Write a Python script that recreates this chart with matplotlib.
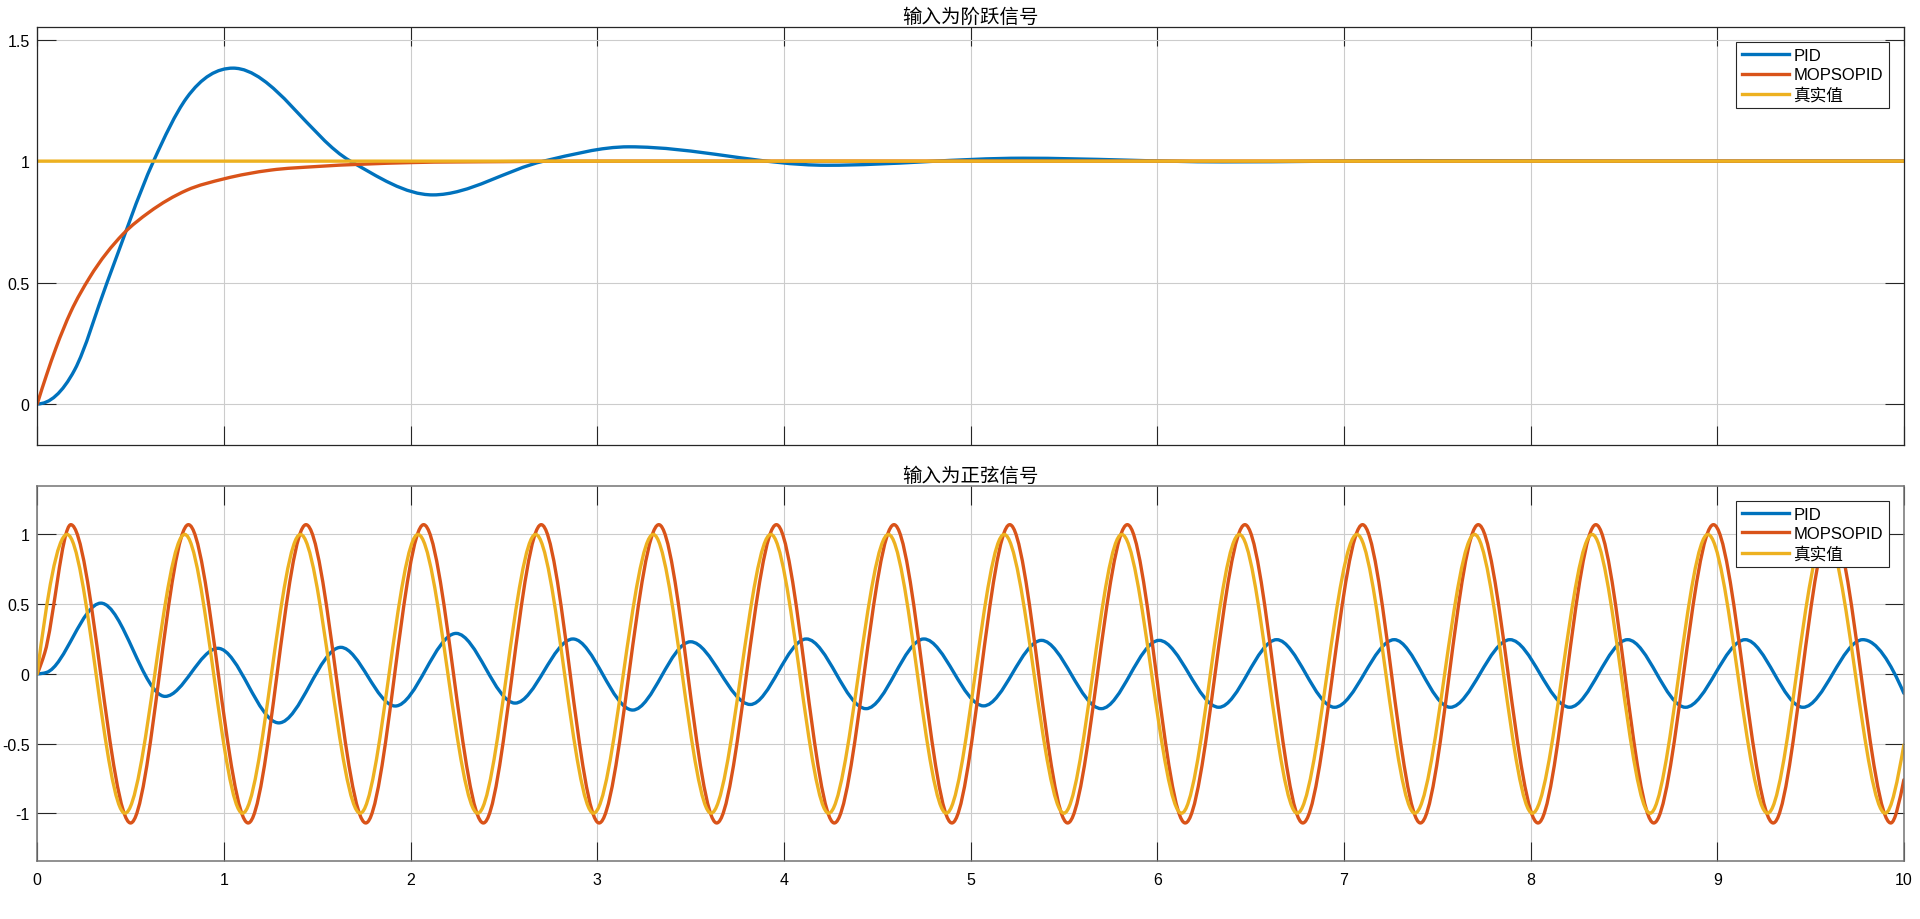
import numpy as np
import matplotlib
matplotlib.use("Agg")
import matplotlib.pyplot as plt
from matplotlib.path import Path
from matplotlib.patches import PathPatch
from matplotlib.lines import Line2D

plt.rcParams['font.family'] = ['Liberation Sans', 'Noto Sans CJK SC']

# ---- data (knots: extrema and a few shape points) ----
series_names = ['PID', 'MOPSOPID', '真实值']
titles = ['输入为阶跃信号', '输入为正弦信号']
x_ticks = [0, 1, 2, 3, 4, 5, 6, 7, 8, 9, 10]
y_ticks_step = [0, 0.5, 1, 1.5]
y_labels_step = ['0', '0.5', '1', '1.5']
y_ticks_sin = [-1, -0.5, 0, 0.5, 1]
y_labels_sin = ['-1', '-0.5', '0', '0.5', '1']

# step input
step_pid_t = [0, 0.2, 0.374, 0.623, 0.8, 1.049, 1.678, 2.119, 2.713, 3.17, 4.23, 5.28, 6.35, 7.4, 8.5, 10]
step_pid_y = [0, 0.14, 0.5, 1.0, 1.26, 1.383, 1.0, 0.861, 1.0, 1.059, 0.983, 1.012, 0.997, 1.002, 1.0, 1.0]
step_mop_t = [0, 0.05, 0.1, 0.18, 0.28, 0.46, 0.6, 0.8, 1.0, 1.25, 1.5, 2.0, 2.5, 3.0, 10]
step_mop_y = [0, 0.12, 0.23, 0.38, 0.52, 0.70, 0.79, 0.88, 0.927, 0.963, 0.978, 0.994, 0.998, 1.0, 1.0]
step_ref_t = [0, 10]
step_ref_y = [1, 1]

# sine input
sin_pid_t = [0, 0.05, 0.341, 0.685, 0.968, 1.294, 1.626, 1.918, 2.244, 2.56, 2.87, 3.19, 3.50,
             3.82, 4.12, 4.44, 4.75, 5.07, 5.38, 5.70, 6.01, 6.33, 6.64, 6.95, 7.27, 7.57,
             7.89, 8.21, 8.52, 8.83, 9.15, 9.46, 9.78, 10.0]
sin_pid_y = [0, 0.01, 0.507, -0.162, 0.183, -0.352, 0.19, -0.231, 0.29, -0.21, 0.25, -0.26, 0.23,
             -0.22, 0.25, -0.25, 0.25, -0.23, 0.24, -0.25, 0.24, -0.24, 0.245, -0.24, 0.245, -0.24,
             0.245, -0.24, 0.245, -0.24, 0.245, -0.24, 0.245, -0.14]
sin_mop_t = [0, 0.04, 0.18, 0.50, 0.81, 1.13, 1.44, 1.76, 2.07, 2.39, 2.70, 3.01, 3.33, 3.64,
             3.96, 4.27, 4.59, 4.90, 5.21, 5.52, 5.84, 6.15, 6.47, 6.78, 7.10, 7.41, 7.72,
             8.04, 8.35, 8.66, 8.98, 9.30, 9.61, 9.93, 10.0]
sin_mop_y = [0, 0.15, 1.07, -1.07, 1.07, -1.07, 1.07, -1.07, 1.07, -1.07, 1.07, -1.07, 1.07, -1.07,
             1.07, -1.07, 1.07, -1.07, 1.07, -1.07, 1.07, -1.07, 1.07, -1.07, 1.07, -1.07, 1.07,
             -1.07, 1.07, -1.07, 1.07, -1.07, 1.07, -1.07, -0.76]
sin_ref_t = [0, 0.16, 0.47, 0.79, 1.10, 1.41, 1.73, 2.04, 2.36, 2.67, 2.98, 3.30, 3.61, 3.93,
             4.24, 4.56, 4.87, 5.18, 5.50, 5.81, 6.13, 6.44, 6.75, 7.07, 7.38, 7.70, 8.01,
             8.33, 8.64, 8.95, 9.27, 9.58, 9.90, 10.0]
sin_ref_y = [0, 1, -1, 1, -1, 1, -1, 1, -1, 1, -1, 1, -1, 1,
             -1, 1, -1, 1, -1, 1, -1, 1, -1, 1, -1, 1, -1,
             1, -1, 1, -1, 1, -1, -0.51]

colors = ['#0072BD', '#D95319', '#EDB120']


def knot_slopes(t, y):
    # flat at local extrema, 3-point parabola slope elsewhere (limited to avoid overshoot)
    h = np.diff(t)
    d = np.diff(y) / h
    m = np.zeros(len(t))
    if len(t) == 2:
        m[:] = d[0]
        return m
    for k in range(1, len(t) - 1):
        if d[k - 1] * d[k] > 0:
            s = (h[k] * d[k - 1] + h[k - 1] * d[k]) / (h[k - 1] + h[k])
            lim = 3 * min(abs(d[k - 1]), abs(d[k]))
            m[k] = np.sign(s) * min(abs(s), lim)

    def end(h0, h1, d0, d1):
        s = ((2 * h0 + h1) * d0 - h0 * d1) / (h0 + h1)
        if np.sign(s) != np.sign(d0):
            s = 0.0
        elif np.sign(d0) != np.sign(d1) and abs(s) > abs(3 * d0):
            s = 3 * d0
        return s

    m[0] = end(h[0], h[1], d[0], d[1])
    m[-1] = end(h[-1], h[-2], d[-1], d[-2])
    return m


def smooth_curve(ax, t, y, color):
    # smooth line through the read knots, drawn as bezier path in data coords
    t = np.asarray(t, float)
    y = np.asarray(y, float)
    m = knot_slopes(t, y)
    h = np.diff(t)
    verts = [(t[0], y[0])]
    for i in range(len(h)):
        verts += [(t[i] + h[i] / 3, y[i] + m[i] * h[i] / 3),
                  (t[i + 1] - h[i] / 3, y[i + 1] - m[i + 1] * h[i] / 3),
                  (t[i + 1], y[i + 1])]
    codes = [Path.MOVETO] + [Path.CURVE4] * (3 * len(h))
    ax.add_patch(PathPatch(Path(verts, codes), fill=False, edgecolor=color,
                           lw=2.4, capstyle='round', joinstyle='round'))


fig = plt.figure(figsize=(19.2, 9.2), dpi=100)
ax1 = fig.add_axes([0.0194, 0.5152, 0.9722, 0.4540])
ax2 = fig.add_axes([0.0194, 0.0627, 0.9722, 0.4076])

step_data = [(step_pid_t, step_pid_y), (step_mop_t, step_mop_y), (step_ref_t, step_ref_y)]
sin_data = [(sin_pid_t, sin_pid_y), (sin_mop_t, sin_mop_y), (sin_ref_t, sin_ref_y)]

for ax, data, title in [(ax1, step_data, titles[0]), (ax2, sin_data, titles[1])]:
    for (t, y), c in zip(data, colors):
        smooth_curve(ax, t, y, c)
    ax.set_xlim(0, 10)
    ax.set_xticks(x_ticks)
    ax.set_axisbelow(True)
    ax.grid(True, color='0.8', lw=0.8)
    ax.tick_params(direction='in', length=13.4, width=0.8, top=True, right=True,
                   labelsize=11.5, color='0.15', labelcolor='black')
    ax.tick_params(axis='y', pad=5.5)
    ax.tick_params(axis='x', pad=8)
    ax.set_title(title, fontsize=14, pad=4)
    handles = [Line2D([], [], color=c, lw=2.4) for c in colors]
    leg = ax.legend(handles, series_names, loc='upper right', fontsize=12, fancybox=False,
                    edgecolor='0.15', framealpha=1, handlelength=2.8, handletextpad=0.3,
                    borderpad=0.35, labelspacing=0.25, borderaxespad=0.9)
    leg.get_frame().set_linewidth(0.8)

ax1.set_ylim(-0.169, 1.551)
ax1.set_yticks(y_ticks_step)
ax1.set_yticklabels(y_labels_step)
ax1.tick_params(axis='x', labelbottom=False)
for s in ax1.spines.values():
    s.set_color('0.15')
    s.set_linewidth(0.9)

ax2.set_ylim(-1.345, 1.345)
ax2.set_yticks(y_ticks_sin)
ax2.set_yticklabels(y_labels_sin)
ax2.set_xticklabels([str(v) for v in x_ticks])
for s in ax2.spines.values():
    s.set_color('0.45')
    s.set_linewidth(1.1)

fig.savefig('out.png', dpi=100)
